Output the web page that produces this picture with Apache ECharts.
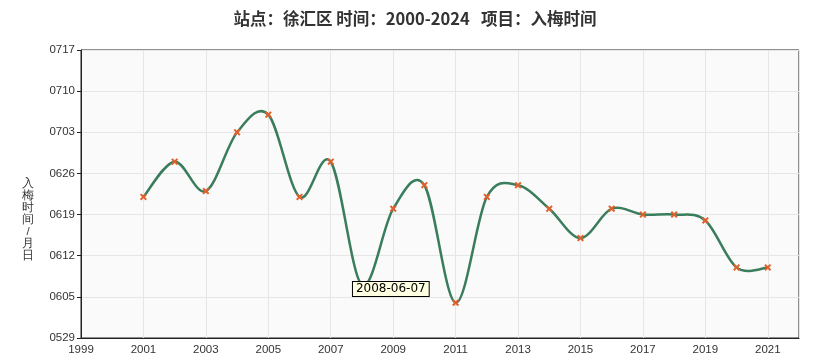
<!DOCTYPE html>
<html><head><meta charset="utf-8">
<script src="https://cdn.jsdelivr.net/npm/echarts@6/dist/echarts.min.js"></script>
<style>html,body{margin:0;padding:0;background:#fff}#c{width:821px;height:357px}</style>
</head><body><div id="c"></div>
<script>
var titleText = '站点：徐汇区 时间：2000-2024   项目：入梅时间';
var yAxisName = '入梅时间/月日';
var years = [2001,2002,2003,2004,2005,2006,2007,2008,2009,2010,2011,2012,2013,2014,2015,2016,2017,2018,2019,2020,2021];
var dates = ['0622','0628','0623','0703','0706','0622','0628','0607','0620','0624','0604','0622','0624','0620','0615','0620','0619','0619','0618','0610','0610'];
var xStartYear = 1999, xEndYear = 2022;
var yStart = '0529', yEnd = '0717';
var highlightYear = 2008;

function toDay(s){ var m=+s.slice(0,2), d=+s.slice(2); return (Date.UTC(2000,m-1,d)-Date.UTC(2000,4,29))/86400000; }
function fromDay(v){ var dt=new Date(Date.UTC(2000,4,29)+v*86400000); var m=dt.getUTCMonth()+1, d=dt.getUTCDate(); return (m<10?'0':'')+m+(d<10?'0':'')+d; }
var seriesData = years.map(function(y,i){ return [y - xStartYear, toDay(dates[i])]; });
var hi = years.indexOf(highlightYear);
var hiLabel = highlightYear + '-' + dates[hi].slice(0,2) + '-' + dates[hi].slice(2);

// Catmull-Rom curve through the data points, positioned via the axis scales (api.coord)
function renderCurve(params, api){
  if (params.dataIndex !== 0) return null;
  var pts = seriesData.map(function(d){ return api.coord(d); });
  var n = pts.length, path = 'M' + pts[0][0] + ' ' + pts[0][1];
  for (var i=0;i<n-1;i++){
    var p0 = pts[i>0?i-1:i], p1 = pts[i], p2 = pts[i+1], p3 = pts[i+2<n?i+2:i+1];
    var c1x = p1[0] + (p2[0]-p0[0])/6, c1y = p1[1] + (p2[1]-p0[1])/6;
    var c2x = p2[0] - (p3[0]-p1[0])/6, c2y = p2[1] - (p3[1]-p1[1])/6;
    path += ' C' + c1x + ' ' + c1y + ' ' + c2x + ' ' + c2y + ' ' + p2[0] + ' ' + p2[1];
  }
  return {type:'path', shape:{pathData:path}, style:{fill:null, stroke:'#3a7d5c', lineWidth:2.5}};
}

var chart = echarts.init(document.getElementById('c'));
chart.setOption({
  animation:false,
  textStyle:{fontFamily:'"Noto Sans CJK SC", "DejaVu Sans", sans-serif'},
  title:{text:titleText,left:410,textAlign:'center',top:5,textStyle:{fontSize:16.5,fontWeight:'bold',color:'#333',fontFamily:'"Noto Sans CJK SC", sans-serif'}},
  graphic:[{type:'text',left:22,top:178,style:{text:yAxisName.split('').join('\n'),fill:'#333',fontSize:11.5,lineHeight:12,textAlign:'center',font:'11.5px "Noto Sans CJK SC", sans-serif'}}],
  grid:{left:81,right:22,top:50,bottom:19,show:true,backgroundColor:'#fafafa',borderColor:'#222',borderWidth:1},
  xAxis:{type:'value',min:0,max:xEndYear-xStartYear,interval:2,
    axisLine:{lineStyle:{color:'#222'}},axisTick:{show:false},
    axisLabel:{color:'#333',fontSize:11.5,showMaxLabel:false,margin:6,fontFamily:'"Liberation Sans", Arial, sans-serif',formatter:function(v){return String(v+xStartYear);}},
    splitLine:{show:true,lineStyle:{color:'#e6e6e6'}}},
  yAxis:{type:'value',min:toDay(yStart),max:toDay(yEnd),interval:7,
    axisLine:{show:true,lineStyle:{color:'#222'}},axisTick:{show:true,length:4,lineStyle:{color:'#222'}},
    axisLabel:{color:'#333',fontSize:11.5,margin:6,fontFamily:'"Liberation Sans", Arial, sans-serif',formatter:function(v){return fromDay(v);}},
    splitLine:{show:true,lineStyle:{color:'#e6e6e6'}}},
  series:[
    {type:'custom',data:seriesData,renderItem:renderCurve,z:2,silent:true},
    {type:'line',data:seriesData,z:3,
    lineStyle:{opacity:0},
    symbol:'path://M2,0 L5,3 L8,0 L10,2 L7,5 L10,8 L8,10 L5,7 L2,10 L0,8 L3,5 L0,2 Z',symbolSize:7,showAllSymbol:true,
    itemStyle:{color:'#e2602c'},
    markPoint:{symbol:'circle',symbolSize:0,data:[{coord:seriesData[hi]}],
      label:{show:true,position:[-9,-3],formatter:hiLabel,color:'#000',fontSize:12,fontFamily:'"DejaVu Sans", sans-serif',
        backgroundColor:'#ffffe1',borderColor:'#000',borderWidth:1,padding:[1,3,1,3]}}
  }]
});
</script></body></html>
